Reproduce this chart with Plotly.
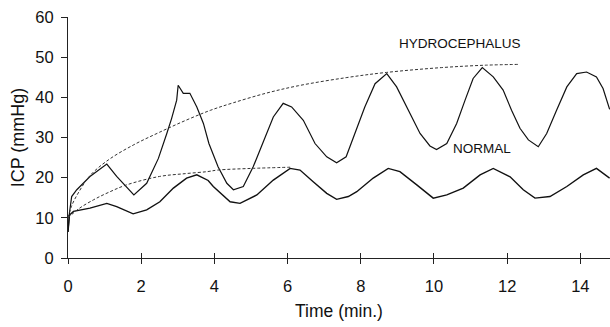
import plotly.graph_objects as go

# Hydrocephalus recording
hydro_t = [0.00, 0.04, 0.10, 0.24, 0.60, 1.06, 1.33, 1.80, 2.15, 2.47, 2.70, 2.83, 2.97, 3.01, 3.15, 3.33,
           3.52, 3.70, 3.85, 4.10, 4.34, 4.52, 4.79, 5.06, 5.34, 5.61, 5.88, 6.11, 6.43, 6.75, 7.07, 7.34,
           7.60, 7.84, 8.11, 8.39, 8.71, 8.98, 9.25, 9.62, 9.89, 10.07, 10.35, 10.62, 10.85, 11.07, 11.32,
           11.62, 11.89, 12.12, 12.35, 12.58, 12.85, 13.08, 13.35, 13.63, 13.90, 14.17, 14.44, 14.62, 14.80]
hydro_v = [6.5, 11.2, 15.3, 17.0, 20.3, 23.4, 20.3, 15.7, 18.6, 24.8, 31.0, 34.7, 39.3, 43.0, 41.0, 41.0,
           37.6, 33.5, 28.5, 22.7, 18.6, 17.0, 17.8, 22.7, 29.0, 35.1, 38.5, 37.6, 34.3, 28.5, 25.2, 23.7,
           25.2, 31.0, 37.6, 43.4, 45.9, 42.6, 37.6, 31.0, 27.9, 27.0, 28.5, 33.5, 39.3, 44.7, 47.4,
           45.1, 41.8, 36.8, 32.3, 29.4, 27.7, 31.0, 36.8, 42.6, 45.9, 46.3, 45.1, 42.2, 37.0]

# Normal recording
normal_t = [0.00, 0.04, 0.15, 0.60, 1.06, 1.33, 1.78, 2.15, 2.51, 2.88, 3.24, 3.52, 3.83, 3.97, 4.43, 4.70,
            5.16, 5.61, 6.07, 6.34, 6.70, 7.07, 7.34, 7.66, 7.89, 8.34, 8.75, 9.07, 9.53, 9.98, 10.35,
            10.80, 11.26, 11.62, 12.08, 12.44, 12.76, 13.17, 13.63, 14.08, 14.44, 14.62, 14.80]
normal_v = [6.5, 10.7, 11.6, 12.4, 13.6, 12.8, 11.0, 12.0, 14.0, 17.4, 19.9, 20.7, 19.3, 17.8, 14.0, 13.6,
            15.7, 19.4, 22.3, 21.9, 19.0, 16.1, 14.6, 15.3, 16.5, 19.9, 22.3, 21.5, 18.2, 14.9, 15.7,
            17.4, 20.7, 22.3, 20.2, 17.0, 14.9, 15.3, 17.8, 20.7, 22.3, 21.1, 19.9]

# Fitted envelopes (dashed)
hfit_t = [0, 0.1, 0.3, 0.6, 1.1, 1.8, 2.5, 3.2, 3.9, 4.5, 5.4, 6.3, 7.6, 8.7, 10.2, 11.4, 12.3]
hfit_v = [10, 13, 16.5, 20.5, 24.4, 28.2, 31.3, 34.2, 36.8, 38.6, 41.0, 42.9, 44.9, 46.2, 47.4, 48.0, 48.2]
nfit_t = [0, 0.3, 0.7, 1.1, 1.6, 2.5, 3.2, 3.8, 4.1, 5.0, 6.07]
nfit_v = [10, 12.3, 14.5, 16.3, 18.2, 20.3, 21.0, 21.5, 21.9, 22.3, 22.6]

x_ticks = [0, 2, 4, 6, 8, 10, 12, 14]
y_ticks = [0, 10, 20, 30, 40, 50, 60]
X_RANGE = [0, 14.81]

FONT = "Liberation Sans, Arial, sans-serif"
fig = go.Figure()
fig.add_trace(go.Scatter(x=hfit_t, y=hfit_v, mode="lines", line=dict(color="#333", width=1, dash="3px,2px"),
                         line_shape="spline", hoverinfo="skip", xaxis="x2"))
fig.add_trace(go.Scatter(x=nfit_t, y=nfit_v, mode="lines", line=dict(color="#333", width=1, dash="3px,2px"),
                         line_shape="spline", hoverinfo="skip", xaxis="x2"))
fig.add_trace(go.Scatter(x=hydro_t, y=hydro_v, mode="lines", line=dict(color="#111", width=1.2), name="HYDROCEPHALUS"))
fig.add_trace(go.Scatter(x=normal_t, y=normal_v, mode="lines", line=dict(color="#111", width=1.4), name="NORMAL"))

fig.add_annotation(x=10.7, y=53.4, text="HYDROCEPHALUS", showarrow=False, font=dict(size=13.5, color="#111", family=FONT))
fig.add_annotation(x=11.3, y=27.2, text="NORMAL", showarrow=False, font=dict(size=13.5, color="#111", family=FONT))

fig.update_layout(
    width=610, height=327, margin=dict(l=68, r=0, t=17, b=69),
    paper_bgcolor="white", plot_bgcolor="white", showlegend=False,
    font=dict(family=FONT, color="#111", size=16),
    xaxis=dict(range=X_RANGE, tickvals=x_ticks, ticks="outside", ticklen=5, tickcolor="#222",
               showline=True, linecolor="#222", linewidth=1, showgrid=False, zeroline=False,
               ticklabelstandoff=8,
               title=dict(text="Time (min.)", font=dict(size=17.5), standoff=10), tickfont=dict(size=16.5)),
    xaxis2=dict(range=X_RANGE, tickvals=x_ticks, ticks="inside", ticklen=5, tickcolor="#222",
                overlaying="x", anchor="y", side="bottom", showticklabels=False, showgrid=False,
                zeroline=False, showline=False),
    yaxis=dict(range=[0, 60], tickvals=y_ticks, ticks="outside", ticklen=6, tickcolor="#222",
               showline=True, linecolor="#222", linewidth=1, showgrid=False, zeroline=False,
               ticklabelstandoff=4,
               title=dict(text="ICP (mmHg)", font=dict(size=18), standoff=6), tickfont=dict(size=16.5)),
)
fig.write_html("out.html")
